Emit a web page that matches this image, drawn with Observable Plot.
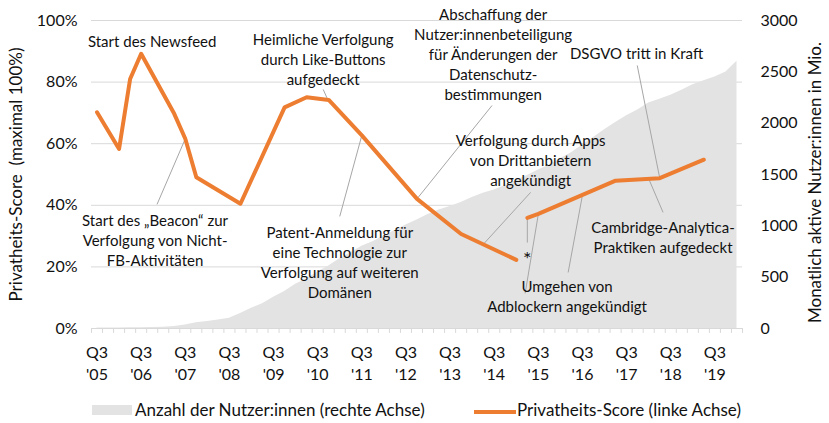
<!DOCTYPE html>
<html><head><meta charset="utf-8">
<script src="https://cdn.jsdelivr.net/npm/d3@7"></script>
<script src="https://cdn.jsdelivr.net/npm/@observablehq/plot@0.6"></script>
<style>
body{margin:0;background:#fff;font-family:Lato,sans-serif;}
#legend{position:relative;height:33px;width:829px;font-size:17px;color:#111;}
#legend span{position:absolute;white-space:nowrap;}
</style></head><body>
<div id="chart"></div>
<div id="legend">
  <span style="left:92px;top:15px;width:40px;height:10px;background:#e3e3e3"></span>
  <span style="left:135px;top:10px;line-height:20px">Anzahl der Nutzer:innen (rechte Achse)</span>
  <span style="left:474px;top:20px;width:42px;height:4px;background:#ED7D31"></span>
  <span style="left:517px;top:10px;line-height:20px">Privatheits-Score (linke Achse)</span>
</div>
<script>
// Quarter categories Q3 2005 ... Q1 2020
const quarters = d3.range(59).map(i => `Q${(i + 2) % 4 + 1} ${2005 + Math.floor((i + 2) / 4)}`);
const qIndex = q => quarters.indexOf(q);

// Monthly active users (millions), one per quarter
const userValues = [5,5.5,6,7,8,10,12,20,35,55,68,84,100,145,197,242,305,360,431,482,550,608,680,739,800,845,901,955,1007,1056,1110,1155,1189,1228,1276,1317,1350,1393,1441,1490,1545,1591,1654,1712,1788,1860,1936,2006,2072,2129,2196,2234,2271,2320,2375,2414,2449,2498,2603];

// Privacy score (%)
const scoreQuarters = ["Q3 2005","Q1 2006","Q2 2006","Q3 2006","Q2 2007","Q3 2007","Q4 2007","Q4 2008","Q4 2009","Q2 2010","Q4 2010","Q3 2011","Q4 2012","Q4 2013","Q1 2015","Q2 2015","Q3 2015","Q2 2017","Q2 2018","Q2 2019"];
const scoreValues = [70.2,58.3,81,89.2,69.7,61.6,49.1,40.5,71.8,75.1,74.2,62.7,42.1,30.7,22.3,35.9,37.2,48.0,48.8,54.8];
const scoreSegment = [1,1,1,1,1,1,1,1,1,1,1,1,1,1,1,2,2,2,2,2];

// Axis ticks
const leftTicks = [0,20,40,60,80,100];
const rightTicks = [0,500,1000,1500,2000,2500,3000];
const xTickQuarters = ["Q3 2005","Q3 2006","Q3 2007","Q3 2008","Q3 2009","Q3 2010","Q3 2011","Q3 2012","Q3 2013","Q3 2014","Q3 2015","Q3 2016","Q3 2017","Q3 2018","Q3 2019"];

// Annotations (x in quarter index, y in % of left axis)
const annotations = [
  {text:"Start des Newsfeed", x:5.0, y:93.5},
  {text:"Heimliche Verfolgung\ndurch Like-Buttons\naufgedeckt", x:20.5, y:87.7},
  {text:"Abschaffung der\nNutzer:innenbeteiligung\nfür Änderungen der\nDatenschutz-\nbestimmungen", x:35.9, y:89.3},
  {text:"Verfolgung durch Apps\nvon Drittanbietern\nangekündigt", x:39.3, y:54.9},
  {text:"DSGVO tritt in Kraft", x:48.9, y:89.6},
  {text:"Cambridge-Analytica-\nPraktiken aufgedeckt", x:51.3, y:29.9},
  {text:"Umgehen von\nAdblockern angekündigt", x:42.6, y:10.55},
  {text:"Start des \u201EBeacon\u201C zur\nVerfolgung von Nicht-\nFB-Aktivitäten", x:5.26, y:28.9},
  {text:"Patent-Anmeldung für\neine Technologie zur\nVerfolgung auf weiteren\nDomänen", x:22.0, y:21.75}
];
const footnoteMarks = [{text:"*", x:39.0, y:22.5}];
const leaders = [
  {x1:20.5,y1:77.6,x2:20.9,y2:74.4},
  {x1:35.8,y1:72.4,x2:29,y2:42.1},
  {x1:39.3,y1:44.2,x2:35.0,y2:27.3},
  {x1:48.96,y1:85.4,x2:51,y2:48.8},
  {x1:50,y1:48.6,x2:51.3,y2:37.7},
  {x1:44,y1:43.4,x2:42.7,y2:18.2},
  {x1:40,y1:37.2,x2:38.8,y2:11.4},
  {x1:5.44,y1:40.3,x2:8,y2:61.6},
  {x1:22.0,y1:36.4,x2:24,y2:62.7},
  {x1:39,y1:35.9,x2:39,y2:27.9}
];

const users = userValues.map((v, i) => ({i, v}));
const score = scoreQuarters.map((q, k) => ({i: qIndex(q), v: scoreValues[k], s: scoreSegment[k]}));
const boundaries = d3.range(60).map(k => k - 0.5);
const toPct = v => v / 30;

const chart = Plot.plot({
  width: 829, height: 390,
  marginLeft: 91, marginRight: 87, marginTop: 20, marginBottom: 62,
  style: {fontFamily: "Lato, sans-serif", color: "#111", background: "#fff", overflow: "visible"},
  x: {domain: [-0.5, 58.5], axis: null},
  y: {domain: [0, 100], axis: null},
  marks: [
    Plot.ruleY([20,40,60,80,100], {stroke: "#d9d9d9", strokeWidth: 1}),
    Plot.areaY(users, {x: "i", y: d => toPct(d.v), fill: "#e3e3e3"}),
    Plot.ruleY([0], {stroke: "#d9d9d9"}),
    Plot.ruleX(boundaries, {x: d => d, y1: 0, y2: -1.6, stroke: "#d9d9d9"}),
    Plot.axisY({ticks: leftTicks, tickFormat: d => d + "%", tickSize: 0, tickPadding: 14, fontSize: 16, anchor: "left", label: null}),
    Plot.axisY({ticks: rightTicks.map(toPct), tickFormat: d => String(Math.round(d * 30)), tickSize: 0, tickPadding: 18, fontSize: 16, anchor: "right", textAnchor: "start", label: null}),
    Plot.axisX({ticks: xTickQuarters.map(qIndex), tickFormat: i => { const q = quarters[i].split(" "); return q[0] + "\n'" + q[1].slice(2); }, tickSize: 0, tickPadding: 13.6, fontSize: 16, lineHeight: 1.4, label: null}),
    Plot.link(leaders, {x1: "x1", y1: "y1", x2: "x2", y2: "y2", stroke: "#a6a6a6", strokeWidth: 1}),
    Plot.line(score, {x: "i", y: "v", z: "s", stroke: "#ED7D31", strokeWidth: 4}),
    Plot.text(annotations, {x: "x", y: "y", text: "text", fontSize: 15, lineHeight: 1.33, fill: "#111"}),
    Plot.text(footnoteMarks, {x: "x", y: "y", text: "text", fontSize: 20, fill: "#111"}),
    Plot.text(["Privatheits-Score  (maximal 100%)"], {frameAnchor: "left", textAnchor: "middle", dx: -75, rotate: -90, fontSize: 17, fill: "#111"}),
    Plot.text(["Monatlich aktive Nutzer:innen in Mio."], {frameAnchor: "right", textAnchor: "middle", dx: 73, dy: 8, rotate: -90, fontSize: 17, fill: "#111"})
  ]
});
document.getElementById("chart").appendChild(chart);
</script>
</body></html>
